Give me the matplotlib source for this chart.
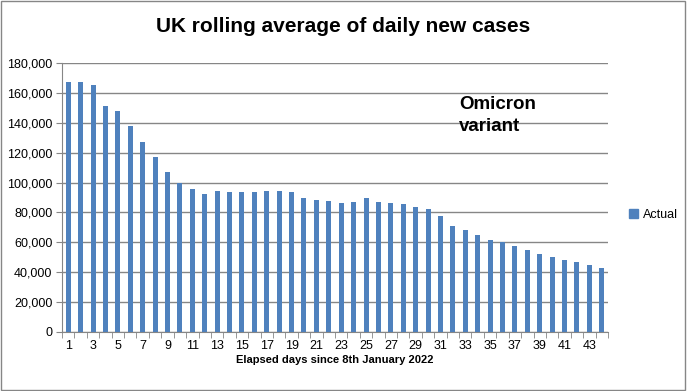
import matplotlib
matplotlib.use('Agg')
import matplotlib.pyplot as plt
from matplotlib.patches import Rectangle, Patch
from matplotlib.ticker import FuncFormatter

days = list(range(1, 45))
cases = [167000, 167000, 165000, 151000, 148000, 138000, 127000, 117000, 107000, 100000,
         95500, 92500, 94500, 94000, 93500, 94000, 94500, 94500, 94000, 90000,
         88500, 87500, 86500, 87000, 90000, 87000, 86500, 85500, 83500, 82500,
         77500, 71000, 68000, 65000, 61500, 60000, 57500, 55000, 52500, 50500,
         48500, 47000, 45000, 43000]
odd_days = [d for d in days if d % 2 == 1]

plt.rcParams['font.family'] = 'Liberation Sans'

fig = plt.figure(figsize=(6.87, 3.91), dpi=100)
ax = fig.add_axes([62 / 687, 1 - 332 / 391, 546 / 687, 269 / 391])

ax.bar(days, cases, width=0.4, color='#4F81BD', zorder=3)

ax.set_xlim(0.5, 44.5)
ax.set_ylim(0, 180000)
ax.set_yticks(range(0, 180001, 20000))
ax.yaxis.set_major_formatter(FuncFormatter(lambda v, p: f'{int(v):,}'))
ax.grid(axis='y', color='#868686', linewidth=1, zorder=0)

ax.set_xticks(odd_days)
ax.set_xticks([d + 0.5 for d in range(0, 45)], minor=True)
ax.tick_params(axis='x', which='major', length=0, labelsize=9, pad=6)
ax.tick_params(axis='x', which='minor', length=4, color='#868686', direction='out')
ax.tick_params(axis='y', length=4, color='#868686', labelsize=9, pad=3)

for s in ['top', 'right']:
    ax.spines[s].set_visible(False)
for s in ['left', 'bottom']:
    ax.spines[s].set_color('#868686')

ax.set_xlabel('Elapsed days since 8th January 2022', fontsize=8, fontweight='bold', labelpad=2)

fig.text(0.5, 1 - 27 / 391, 'UK rolling average of daily new cases',
         ha='center', va='center', fontsize=15, fontweight='bold')
fig.text(459 / 687, 1 - 96 / 391, 'Omicron\nvariant', ha='left', va='top',
         fontsize=13.5, fontweight='bold', linespacing=1.35)

fig.legend(handles=[Patch(color='#4F81BD', label='Actual')], loc='center left',
           bbox_to_anchor=(618 / 687, 1 - 215 / 391), frameon=False, fontsize=9,
           handlelength=0.7, handleheight=0.7, handletextpad=0.4)

fig.patches.append(Rectangle((0.002, 0.003), 0.995, 0.994, transform=fig.transFigure,
                             fill=False, edgecolor='#868686', linewidth=1))

fig.savefig('out.png', dpi=100)
